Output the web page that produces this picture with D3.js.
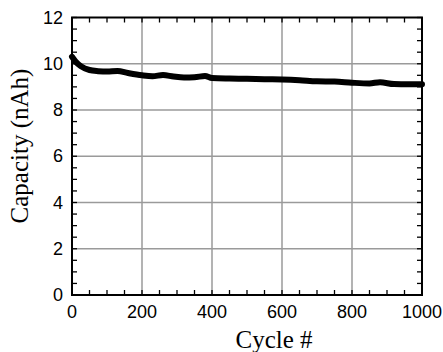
<!DOCTYPE html>
<html>
  <head>
    <style>
      body { margin: 0; background: #fff; }
    </style>
  </head>
  <body>
    <script src="https://d3js.org/d3.v7.min.js"></script>
    <script>
      // data
      var cycles   = [0, 10, 25, 50, 75, 100, 130, 160, 200, 230, 260, 290, 320, 350, 380, 400, 450, 500, 550, 600, 650, 700, 750, 800, 850, 880, 920, 960, 1000];
      var capacity = [10.3, 10.1, 9.9, 9.73, 9.68, 9.66, 9.69, 9.6, 9.5, 9.46, 9.51, 9.45, 9.41, 9.42, 9.47, 9.38, 9.36, 9.35, 9.33, 9.32, 9.29, 9.24, 9.23, 9.18, 9.15, 9.2, 9.12, 9.11, 9.11];
      var xTicks = [0, 200, 400, 600, 800, 1000];
      var yTicks = [0, 2, 4, 6, 8, 10, 12];

      var W = 443, H = 352;
      var pL = 72, pR = 422, pT = 17.5, pB = 295;

      var svg = d3.select("body").append("svg")
        .attr("width", W).attr("height", H);

      var x = d3.scaleLinear().domain([0, 1000]).range([pL, pR]);
      var y = d3.scaleLinear().domain([0, 12]).range([pB, pT]);

      // grid
      svg.append("g").selectAll("line").data(xTicks.slice(1, -1)).enter().append("line")
        .attr("x1", x).attr("x2", x).attr("y1", pT).attr("y2", pB)
        .attr("stroke", "#9a9a9a").attr("stroke-width", 1.5);
      svg.append("g").selectAll("line").data(yTicks.slice(1, -1)).enter().append("line")
        .attr("y1", y).attr("y2", y).attr("x1", pL).attr("x2", pR)
        .attr("stroke", "#9a9a9a").attr("stroke-width", 1.5);

      // inward ticks on all sides (minor every 50 / 0.5)
      var xt = d3.range(0, 1001, 50), yt = d3.range(0, 12.01, 0.5);
      var tk = svg.append("g").attr("stroke", "#000").attr("stroke-width", 1.3);
      tk.selectAll(".xb").data(xt).enter().append("line")
        .attr("x1", x).attr("x2", x).attr("y1", pB).attr("y2", pB - 5);
      tk.selectAll(".xt").data(xt).enter().append("line")
        .attr("x1", x).attr("x2", x).attr("y1", pT).attr("y2", pT + 5);
      tk.selectAll(".yl").data(yt).enter().append("line")
        .attr("y1", y).attr("y2", y).attr("x1", pL).attr("x2", pL + 5);
      tk.selectAll(".yr").data(yt).enter().append("line")
        .attr("y1", y).attr("y2", y).attr("x1", pR).attr("x2", pR - 5);

      // frame
      svg.append("rect")
        .attr("x", pL).attr("y", pT)
        .attr("width", pR - pL).attr("height", pB - pT)
        .attr("fill", "none").attr("stroke", "#000").attr("stroke-width", 2);

      // tick labels
      svg.append("g").selectAll("text").data(xTicks).enter().append("text")
        .attr("x", x).attr("y", 318)
        .attr("text-anchor", "middle")
        .style("font-family", "'Liberation Sans', Arial, sans-serif")
        .style("font-size", "18px")
        .text(function(d){ return d; });
      svg.append("g").selectAll("text").data(yTicks).enter().append("text")
        .attr("x", 63).attr("y", function(d){ return y(d) + 6; })
        .attr("text-anchor", "end")
        .style("font-family", "'Liberation Sans', Arial, sans-serif")
        .style("font-size", "18px")
        .text(function(d){ return d; });

      // axis titles
      svg.append("text")
        .attr("x", 274).attr("y", 348)
        .attr("text-anchor", "middle")
        .style("font-family", "'Liberation Serif', 'Times New Roman', serif")
        .style("font-size", "25px")
        .text("Cycle #");
      svg.append("text")
        .attr("transform", "translate(28,146) rotate(-90)")
        .attr("text-anchor", "middle")
        .style("font-family", "'Liberation Serif', 'Times New Roman', serif")
        .style("font-size", "25px")
        .text("Capacity (nAh)");

      // data line
      var line = d3.line()
        .x(function(d, i){ return x(cycles[i]); })
        .y(function(d){ return y(d); })
        .curve(d3.curveMonotoneX);
      svg.append("path")
        .datum(capacity)
        .attr("d", line)
        .attr("fill", "none")
        .attr("stroke", "#000")
        .attr("stroke-width", 6)
        .attr("stroke-linejoin", "round")
        .attr("stroke-linecap", "round");
    </script>
  </body>
</html>
